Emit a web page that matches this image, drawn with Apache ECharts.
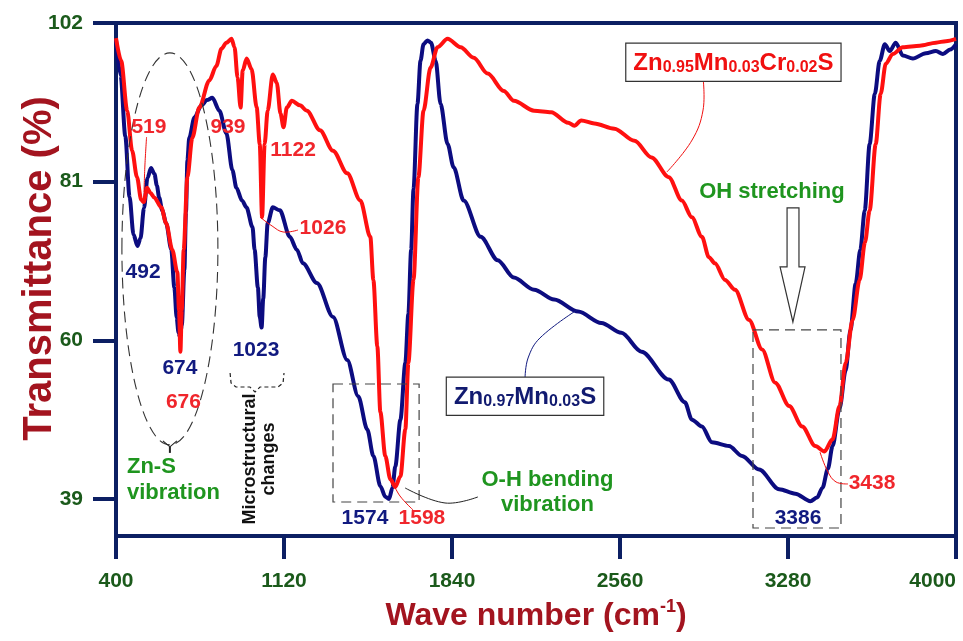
<!DOCTYPE html>
<html><head><meta charset="utf-8">
<script src="https://cdn.jsdelivr.net/npm/echarts@6/dist/echarts.min.js"></script>
<style>html,body{margin:0;padding:0;background:#fff}#c{width:963px;height:641px}</style>
</head><body><div id="c"></div>
<script>
// ---------- data ----------
const xTicks = [400, 1120, 1840, 2560, 3280, 4000];
const yTicks = [39, 60, 81, 102];
const seriesNames = ['Zn0.97Mn0.03S', 'Zn0.95Mn0.03Cr0.02S'];

const znMnS = [
[400,99.8],[420,95],[440,87],[458,79],[475,74],[492,72.5],[505,73.5],[520,77.5],[535,81.5],[550,82.8],[565,82],[575,80.5],[585,78.9],[598,77.2],[615,75.5],[637,72],[650,67],[660,63],[668,61],[674,60.5],[682,62],[693,69.3],[700,77],[706,83.8],[714,86.8],[736,89.5],[766,91.1],[790,91.8],[813,92.1],[843,90.4],[873,87.4],[899,82.5],[916,80.2],[940,78.5],[959,77.6],[985,75],[994,72],[1008,67],[1016,63.1],[1024,61.7],[1031,65.5],[1040,71],[1050,75.5],[1072,77.6],[1102,77.2],[1145,73.7],[1175,72],[1201,70.2],[1261,67.6],[1330,63.1],[1391,57.4],[1438,52.6],[1477,48.2],[1503,44.7],[1533,40.7],[1554,39.3],[1570,39.0],[1585,40.5],[1597,43.3],[1619,49.5],[1640,57],[1653,63.5],[1665,72],[1675,80],[1692,91.3],[1705,97],[1718,99.2],[1735,99.7],[1750,99.4],[1770,97],[1791,91.3],[1821,86],[1847,82.9],[1890,78.5],[1963,73.7],[2036,70.6],[2105,68.3],[2192,66.7],[2278,65.4],[2381,63.8],[2480,62.3],[2566,61.0],[2652,58.5],[2769,54.8],[2838,51.8],[2868,49.5],[2911,48.6],[2954,46.5],[3027,46.0],[3083,44.7],[3156,42.9],[3242,40.3],[3311,39.7],[3376,38.7],[3405,39.2],[3428,40.5],[3451,43],[3471,46],[3501,51],[3527,56],[3548,61.4],[3570,67.5],[3590,72],[3609,77.2],[3630,86],[3652,92.6],[3673,97],[3695,99.2],[3716,98.3],[3742,99.4],[3772,97.7],[3815,97.3],[3871,98],[3914,98.3],[3944,97.9],[3975,98.5],[4000,99.2]
];

const znMnCrS = [
[400,100],[422,97],[448,90.4],[469,85.1],[490,81.6],[508,78.6],[519,78.3],[533,80.2],[548,79.5],[564,78.9],[594,77.6],[615,75.5],[641,72],[663,69],[670,64],[676,58.5],[682,64],[690,72],[706,81.6],[727,86.8],[757,90.8],[800,94.4],[830,96.3],[852,98.6],[873,99.4],[895,99.9],[908,98.8],[921,94.8],[934,90.8],[943,95.7],[960,97.3],[981,95.9],[1003,90.8],[1016,86],[1026,76.3],[1037,86],[1050,90.4],[1072,95.2],[1089,94.1],[1105,90],[1118,88.2],[1132,90.8],[1154,91.7],[1188,91.1],[1218,90.4],[1274,87.8],[1330,85.1],[1391,82.1],[1447,78.5],[1490,73.7],[1503,68],[1520,59.2],[1533,50.5],[1554,44.7],[1576,41.6],[1597,40.6],[1619,42],[1640,48.2],[1653,57],[1675,68],[1696,81.6],[1718,90.4],[1748,96.1],[1778,98.8],[1821,99.9],[1877,98.8],[1933,97.4],[1993,95.3],[2062,93],[2105,91.7],[2192,90.4],[2265,90.2],[2338,88.8],[2364,88.4],[2394,89.1],[2450,88.7],[2536,88],[2622,86.4],[2695,84.2],[2769,81.6],[2825,78.5],[2868,76.3],[2911,73.7],[2941,71],[2967,70.2],[3010,68],[3053,66.7],[3113,62.7],[3169,58.8],[3225,54.4],[3285,51.3],[3341,48.6],[3397,46],[3436,45.3],[3471,46.9],[3501,51.3],[3527,57],[3557,62.7],[3587,68],[3610,73],[3630,77.2],[3656,86],[3677,92.6],[3699,96.6],[3729,97.9],[3772,98.8],[3845,99],[3914,99.4],[3957,99.6],[4000,99.9]
];

// peak labels: [text, wavenumber, transmittance, colour key]
const peakLabels = [
 ['519',541,88.2,'r'],['492',516,69.0,'b'],['939',880,88.2,'r'],['1122',1159,85.1,'r'],
 ['1026',1287,74.9,'r'],['1023',1000,58.7,'b'],['674',674,56.3,'b'],['676',689,51.8,'r'],
 ['1574',1467,36.5,'b'],['1598',1711,36.5,'r'],['3386',3323,36.4,'b'],['3438',3640,41.1,'r']
];

// ---------- styles ----------
const FONT = "'Liberation Sans', Arial, Helvetica, sans-serif";
const NAVY = '#0c1f63';
const COL = { r: '#f0262c', b: '#111a80' };
const GREEN = '#1f951f';
const TICKGREEN = '#1b5a1b';
const TITLERED = '#a3141f';

const chart = echarts.init(document.getElementById('c'), null, { renderer: 'canvas' });

const option = {
  animation: false,
  backgroundColor: '#fff',
  grid: { left: 116, right: 7, top: 23, bottom: 105, show: true, borderColor: NAVY, borderWidth: 4,
          containLabel: false, outerBoundsMode: 'none' },
  xAxis: {
    type: 'value', min: 400, max: 4000,
    axisLine: { show: false },
    axisTick: { show: true, customValues: xTicks, length: 23, lineStyle: { color: NAVY, width: 4 } },
    axisLabel: { customValues: xTicks, margin: 35, color: TICKGREEN, fontSize: 21, fontWeight: 'bold', fontFamily: FONT,
                 alignMaxLabel: 'right', formatter: v => String(v) },
    splitLine: { show: false },
    name: 'Wave number (cm{sup|-1})', nameLocation: 'middle', nameGap: 62, nameMoveOverlap: false,
    nameTextStyle: { color: TITLERED, fontSize: 32, fontWeight: 'bold', fontFamily: FONT, lineHeight: 36,
      rich: { sup: { color: TITLERED, fontSize: 18, fontWeight: 'bold', fontFamily: FONT, lineHeight: 18, verticalAlign: 'top' } } }
  },
  yAxis: {
    type: 'value', min: 34.1, max: 102,
    axisLine: { show: false },
    axisTick: { show: true, customValues: yTicks, length: 23, lineStyle: { color: NAVY, width: 4 } },
    axisLabel: { customValues: yTicks, margin: 33, color: TICKGREEN, fontSize: 21, fontWeight: 'bold', fontFamily: FONT,
                 formatter: v => String(v) },
    splitLine: { show: false },
    name: 'Transmittance (%)', nameLocation: 'middle', nameGap: 56, nameMoveOverlap: false,
    nameTextStyle: { color: TITLERED, fontSize: 40, fontWeight: 'bold', fontFamily: FONT, padding: [0, 0, 0, 22] }
  },
  series: [
    { name: seriesNames[0], type: 'line', data: znMnS, showSymbol: false, smooth: 0.3, smoothMonotone: 'x',
      lineStyle: { color: '#0c0c80', width: 4 }, z: 2 },
    { name: seriesNames[1], type: 'line', data: znMnCrS, showSymbol: false, smooth: 0.3, smoothMonotone: 'x',
      lineStyle: { color: '#ff1010', width: 4 }, z: 3 }
  ]
};
chart.setOption(option);

// ---------- annotations (positioned in data coordinates) ----------
const P = (x, y) => chart.convertToPixel({ gridIndex: 0 }, [x, y]);
const pts = arr => arr.map(p => P(p[0], p[1]));
const g = [];

peakLabels.forEach(([t, x, y, c]) => {
  const [px, py] = P(x, y);
  g.push({ type: 'text', x: px, y: py, z: 100,
    style: { text: t, fill: COL[c], font: `bold 21px ${FONT}`, align: 'center', verticalAlign: 'middle' } });
});

function gtext(t, x, y, align) {
  const [px, py] = P(x, y);
  g.push({ type: 'text', x: px, y: py, z: 100,
    style: { text: t, fill: GREEN, font: `bold 22px ${FONT}`, align: align || 'center', verticalAlign: 'middle' } });
}
gtext('Zn-S', 447, 43.2, 'left');
gtext('vibration', 447, 39.8, 'left');
gtext('O-H bending', 2249, 41.5);
gtext('vibration', 2249, 38.2);
gtext('OH stretching', 3211, 79.6);

// micro structural text (rotated)
(function () {
  const [px, py] = P(1013, 44.3);
  g.push({ type: 'text', x: px, y: py, rotation: Math.PI / 2, z: 100,
    style: { text: 'Microstructural\nchanges', fill: '#111', font: `bold 18px ${FONT}`, lineHeight: 19, align: 'center', verticalAlign: 'middle' } });
})();

// compound labels with boxes
function box(x, y, parts, color) {
  const [px, py] = P(x, y);
  const text = parts.map((p, i) => (i % 2 === 0 ? `{m|${p}}` : `{s|${p}}`)).join('');
  g.push({ type: 'text', x: px, y: py, z: 100,
    style: { text, align: 'center', verticalAlign: 'middle', backgroundColor: '#fff',
      borderColor: '#333', borderWidth: 1.2, padding: [6, 7, 5, 7],
      rich: {
        m: { fill: color, fontSize: 24, fontWeight: 'bold', fontFamily: FONT, lineHeight: 26, verticalAlign: 'bottom' },
        s: { fill: color, fontSize: 16, fontWeight: 'bold', fontFamily: FONT, lineHeight: 20, verticalAlign: 'bottom' }
      } } });
}
box(2153, 52.6, ['Zn', '0.97', 'Mn', '0.03', 'S'], '#111a70');
box(3046, 96.8, ['Zn', '0.95', 'Mn', '0.03', 'Cr', '0.02', 'S'], '#f01010');

// leader lines
function leader(arr, color) {
  g.push({ type: 'polyline', z: 90, shape: { points: pts(arr), smooth: 0.4 },
    style: { stroke: color, lineWidth: 1, fill: null } });
}
leader([[531, 86.91], [524, 83.21], [520, 79.63]], '#f01010');
leader([[1017, 76.32], [1069, 75.13], [1116, 74.34], [1180, 74.6]], '#f01010');
leader([[1587, 41.12], [1617, 39.4], [1673, 37.55]], '#f01010');
leader([[1639, 40.46], [1810, 38.47], [1951, 39.27]], '#222');
leader([[2153, 55.02], [2166, 57.66], [2217, 60.31], [2376, 64.02]], '#111a80');
leader([[2916, 94.72], [2916, 90.49], [2869, 86.51], [2761, 82.28]], '#f01010');
leader([[3417, 45.22], [3451, 42.58], [3486, 41.25], [3537, 40.99]], '#f01010');

// dashed rectangles
function drect(x1, y1, x2, y2) {
  const a = P(x1, y1), b = P(x2, y2);
  g.push({ type: 'rect', z: 80, shape: { x: a[0], y: a[1], width: b[0] - a[0], height: b[1] - a[1] },
    style: { fill: null, stroke: '#444', lineWidth: 1.2, lineDash: [10, 6] } });
}
drect(1330, 54.22, 1699, 38.6);
drect(3130, 61.37, 3507, 35.16);

// bracket for microstructural changes
g.push({ type: 'polyline', z: 80, shape: { points: pts([[889,55.68],[893,54.35],[914,53.82],[974,53.82],[996,53.16],[1017,53.82],[1094,53.82],[1116,54.35],[1120,55.68]]) },
  style: { stroke: '#222', lineWidth: 1.2, lineDash: [4, 3], fill: null } });

// dashed ellipse (Zn-S region)
(function () {
  const c = P(631, 72.1), e = P(631 + 205.7, 72.1 - 25.94);
  g.push({ type: 'ellipse', z: 80, shape: { cx: c[0], cy: c[1], rx: e[0] - c[0], ry: e[1] - c[1] },
    style: { fill: null, stroke: '#333', lineWidth: 1.1, lineDash: [11, 6] } });
  g.push({ type: 'polyline', z: 80, shape: { points: pts([[601, 46.7], [631, 45.9], [661, 46.7]]) },
    style: { stroke: '#222', lineWidth: 1.1, fill: null } });
  g.push({ type: 'polyline', z: 80, shape: { points: pts([[631, 45.9], [631, 45.1]]) },
    style: { stroke: '#222', lineWidth: 2, fill: null } });
})();

// hollow arrow (OH stretching)
g.push({ type: 'polygon', z: 80,
  shape: { points: pts([[3276,77.52],[3327,77.52],[3327,69.71],[3353,69.71],[3301,62.43],[3246,69.71],[3276,69.71]]) },
  style: { fill: '#fff', stroke: '#333', lineWidth: 1.2 } });

chart.setOption({ graphic: g });
</script>
</body></html>
